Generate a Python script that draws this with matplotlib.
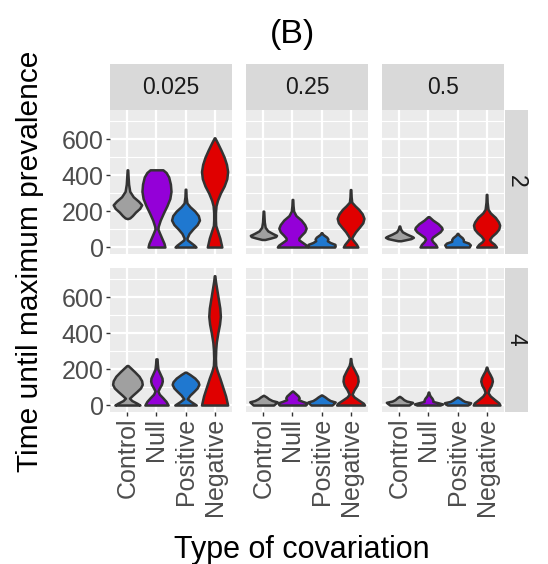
import numpy as np
import matplotlib.pyplot as plt

plt.rcParams['font.family'] = ['Liberation Sans', 'DejaVu Sans']

col_labels = ["0.025", "0.25", "0.5"]
row_labels = ["2", "4"]
categories = ["Control", "Null", "Positive", "Negative"]
colors = ["#A0A0A0", "#9400D8", "#1F78D0", "#E00000"]

# violin outlines: (value, half width in category units)
# row "2"
r2_c0025_control = [(430, 0.01), (400, 0.02), (350, 0.04), (310, 0.08), (280, 0.2), (255, 0.38), (235, 0.49),
                    (215, 0.42), (195, 0.28), (175, 0.17), (162, 0.08), (158, 0.0)]
r2_c0025_null = [(430, 0.22), (415, 0.33), (390, 0.42), (350, 0.48), (310, 0.5), (270, 0.46), (230, 0.36),
                 (190, 0.24), (150, 0.13), (115, 0.06), (100, 0.05), (80, 0.1), (50, 0.18), (20, 0.26), (0, 0.29)]
r2_c0025_positive = [(322, 0.01), (280, 0.02), (245, 0.05), (225, 0.15), (200, 0.32), (175, 0.44), (150, 0.48),
                     (125, 0.4), (100, 0.25), (75, 0.12), (50, 0.05), (40, 0.06), (25, 0.18), (10, 0.3), (0, 0.36)]
r2_c0025_negative = [(608, 0.01), (580, 0.1), (540, 0.22), (500, 0.33), (460, 0.41), (420, 0.45), (380, 0.42),
                     (340, 0.33), (300, 0.2), (260, 0.1), (230, 0.05), (190, 0.03), (150, 0.03), (120, 0.04),
                     (90, 0.1), (50, 0.18), (0, 0.25)]
r2_c025_control = [(200, 0.01), (170, 0.02), (140, 0.03), (110, 0.06), (90, 0.15), (75, 0.32), (65, 0.45),
                   (58, 0.42), (50, 0.25), (42, 0.05)]
r2_c025_null = [(265, 0.01), (230, 0.02), (200, 0.04), (175, 0.12), (150, 0.3), (125, 0.42), (105, 0.47),
                (85, 0.42), (65, 0.3), (50, 0.22), (40, 0.22), (25, 0.35), (10, 0.48), (0, 0.52)]
r2_c025_positive = [(80, 0.01), (70, 0.05), (55, 0.18), (45, 0.22), (35, 0.2), (25, 0.3), (15, 0.46),
                    (5, 0.47), (0, 0.45)]
r2_c025_negative = [(320, 0.01), (280, 0.02), (250, 0.04), (230, 0.15), (210, 0.28), (185, 0.4), (160, 0.46),
                    (135, 0.42), (110, 0.3), (85, 0.17), (60, 0.07), (48, 0.04), (35, 0.1), (15, 0.2), (0, 0.25)]
r2_c05_control = [(117, 0.01), (100, 0.04), (85, 0.1), (72, 0.25), (60, 0.42), (54, 0.48), (47, 0.4),
                  (40, 0.2), (35, 0.05)]
r2_c05_null = [(169, 0.02), (150, 0.15), (130, 0.33), (110, 0.45), (100, 0.47), (85, 0.4), (70, 0.27),
               (55, 0.14), (43, 0.1), (30, 0.15), (15, 0.24), (0, 0.29)]
r2_c05_positive = [(76, 0.01), (65, 0.06), (52, 0.16), (42, 0.2), (32, 0.2), (22, 0.38), (12, 0.44), (0, 0.4)]
r2_c05_negative = [(293, 0.01), (250, 0.02), (210, 0.05), (190, 0.13), (165, 0.3), (140, 0.41), (122, 0.45),
                   (100, 0.42), (80, 0.32), (60, 0.18), (42, 0.1), (30, 0.15), (15, 0.27), (0, 0.34)]
# row "4"
r4_c0025_control = [(220, 0.02), (205, 0.12), (185, 0.25), (160, 0.4), (135, 0.49), (115, 0.51), (95, 0.45),
                    (75, 0.32), (55, 0.18), (38, 0.07), (25, 0.15), (10, 0.33), (0, 0.43)]
r4_c0025_null = [(257, 0.02), (230, 0.03), (200, 0.05), (175, 0.12), (150, 0.19), (133, 0.2), (115, 0.17),
                 (95, 0.1), (78, 0.05), (60, 0.1), (40, 0.22), (20, 0.33), (0, 0.4)]
r4_c0025_positive = [(183, 0.02), (170, 0.15), (150, 0.32), (130, 0.43), (115, 0.46), (95, 0.4), (75, 0.28),
                     (55, 0.15), (35, 0.06), (20, 0.18), (0, 0.37)]
r4_c0025_negative = [(720, 0.01), (690, 0.03), (640, 0.08), (590, 0.13), (540, 0.18), (494, 0.2), (450, 0.17),
                     (400, 0.11), (350, 0.06), (310, 0.04), (260, 0.03), (220, 0.04), (190, 0.09), (150, 0.18),
                     (100, 0.28), (50, 0.38), (0, 0.45)]
r4_c025_control = [(54, 0.01), (45, 0.1), (35, 0.18), (25, 0.3), (18, 0.47), (10, 0.42), (0, 0.35)]
r4_c025_null = [(78, 0.01), (65, 0.1), (50, 0.2), (40, 0.23), (30, 0.2), (20, 0.35), (12, 0.5), (5, 0.48), (0, 0.45)]
r4_c025_positive = [(56, 0.01), (45, 0.12), (35, 0.2), (25, 0.3), (17, 0.47), (8, 0.42), (0, 0.36)]
r4_c025_negative = [(259, 0.01), (240, 0.02), (220, 0.05), (190, 0.15), (160, 0.24), (133, 0.26), (110, 0.22),
                    (85, 0.12), (60, 0.05), (45, 0.12), (25, 0.3), (10, 0.44), (0, 0.48)]
r4_c05_control = [(48, 0.01), (40, 0.08), (30, 0.15), (22, 0.25), (15, 0.45), (8, 0.4), (0, 0.33)]
r4_c05_null = [(72, 0.01), (60, 0.03), (50, 0.06), (38, 0.12), (28, 0.15), (20, 0.15), (12, 0.35), (6, 0.49), (0, 0.4)]
r4_c05_positive = [(44, 0.01), (35, 0.1), (27, 0.17), (20, 0.25), (13, 0.45), (6, 0.42), (0, 0.35)]
r4_c05_negative = [(211, 0.01), (190, 0.05), (170, 0.12), (150, 0.18), (133, 0.2), (110, 0.16), (90, 0.09),
                   (69, 0.05), (50, 0.13), (30, 0.28), (12, 0.42), (0, 0.46)]

panels = [
    [[r2_c0025_control, r2_c0025_null, r2_c0025_positive, r2_c0025_negative],
     [r2_c025_control, r2_c025_null, r2_c025_positive, r2_c025_negative],
     [r2_c05_control, r2_c05_null, r2_c05_positive, r2_c05_negative]],
    [[r4_c0025_control, r4_c0025_null, r4_c0025_positive, r4_c0025_negative],
     [r4_c025_control, r4_c025_null, r4_c025_positive, r4_c025_negative],
     [r4_c05_control, r4_c05_null, r4_c05_positive, r4_c05_negative]],
]

W, H = 548, 564
fig = plt.figure(figsize=(W / 100, H / 100), dpi=100)


def box(x0, y0, w, h):
    return [x0 / W, 1 - (y0 + h) / H, w / W, h / H]


col_x = [110, 246, 382]
row_y = [110, 268]
pw, ph = 122, 143.5

for r in range(2):
    for c in range(3):
        ax = fig.add_axes(box(col_x[c], row_y[r], pw, ph))
        ax.set_facecolor("#EBEBEB")
        for s in ax.spines.values():
            s.set_visible(False)
        ax.set_xlim(0.4, 4.6)
        ax.set_ylim(-36, 763)
        ax.set_yticks([0, 200, 400, 600])
        ax.set_yticks([100, 300, 500, 700], minor=True)
        ax.set_xticks(range(1, 5))
        ax.grid(True, which="major", color="white", lw=1.6, zorder=0)
        ax.grid(True, which="minor", axis="y", color="white", lw=0.8, zorder=0)
        ax.set_axisbelow(True)
        ax.tick_params(which="major", length=3, width=1.0, color="#333333", labelcolor="#4D4D4D",
                       labelsize=18, pad=1.5)
        ax.tick_params(which="minor", length=0)
        if c == 0:
            ax.set_yticklabels(["0", "200", "400", "600"])
        else:
            ax.set_yticklabels([])
            ax.tick_params(axis="y", length=0)
        if r == 1:
            ax.set_xticklabels(categories, rotation=90, va="top", ha="center")
        else:
            ax.set_xticklabels([])
            ax.tick_params(axis="x", length=0)

        for i, prof in enumerate(panels[r][c]):
            v = np.array([p[0] for p in prof])
            hw = np.array([p[1] for p in prof])
            ax.fill_betweenx(v, (i + 1) - hw, (i + 1) + hw, facecolor=colors[i],
                             edgecolor="#333333", lw=1.8, zorder=3)

        # right strip
        if c == 2:
            sx = fig.add_axes(box(505, row_y[r], 23, ph))
            sx.set_facecolor("#D9D9D9")
            sx.set_xticks([])
            sx.set_yticks([])
            for s in sx.spines.values():
                s.set_visible(False)
            sx.text(0.5, 0.5, row_labels[r], rotation=-90, ha="center", va="center",
                    fontsize=16.5, color="#1A1A1A", transform=sx.transAxes)

# top strips
for c in range(3):
    st = fig.add_axes(box(col_x[c], 64, pw, 46))
    st.set_facecolor("#D9D9D9")
    st.set_xticks([])
    st.set_yticks([])
    for s in st.spines.values():
        s.set_visible(False)
    st.text(0.5, 0.5, col_labels[c], ha="center", va="center", fontsize=16.5,
            color="#1A1A1A", transform=st.transAxes)

fig.text(292 / W, 1 - 35 / H, "(B)", ha="center", va="center", fontsize=24.5, color="black")
fig.text(30 / W, 1 - 261 / H, "Time until maximum prevalence", rotation=90, ha="center",
         va="center", fontsize=21.5, color="black")
fig.text(302 / W, 1 - 558 / H, "Type of covariation", ha="center", va="baseline",
         fontsize=22, color="black")

fig.savefig("out.png", dpi=100)
